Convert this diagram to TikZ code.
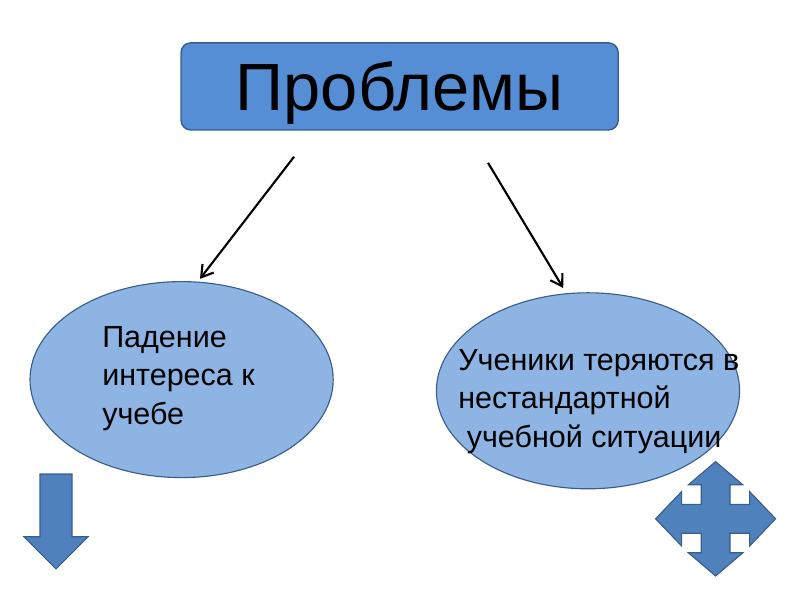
\documentclass[tikz,border=0pt]{standalone}
\usepackage{fontspec}
\setmainfont{Liberation Sans}
\usepackage{tikz}
\usetikzlibrary{arrows.meta, positioning, shapes.geometric}
\definecolor{boxblue}{HTML}{558ED5}
\definecolor{ellblue}{HTML}{8EB4E3}
\definecolor{shapeblue}{HTML}{4F81BD}
\definecolor{edgeblue}{HTML}{385D8A}
\tikzset{
  titlebox/.style={draw=edgeblue, fill=boxblue, line width=1pt, rounded corners=7pt,
    minimum width=10.93cm, minimum height=2.18cm, text height=34pt, text depth=0pt,
    font=\fontsize{47.5}{50}\selectfont},
  problem/.style={ellipse, draw=edgeblue, fill=ellblue, line width=0.8pt,
    minimum width=7.58cm, minimum height=4.9cm},
  ptext/.style={inner sep=0pt, align=left, font=\fontsize{21.7}{27.3}\selectfont},
  link/.style={-{Straight Barb[length=8pt, width=10pt]}, line width=1.5pt},
  bigarrow/.style={draw=edgeblue, fill=shapeblue, line width=0.8pt, line join=miter}
}

\begin{document}
\begin{tikzpicture}
\useasboundingbox (0,0) rectangle (20,15);
\node[titlebox] (prob) at (9.99,12.84) {Проблемы};

\node[problem] (interest) at (4.54,5.51) {};
\node[ptext, anchor=north west] (interesttxt) at (2.55,6.85) {Падение\\интереса к\\учебе};

\node[problem] (lost) at (14.7,5.23) {};
\node[ptext, anchor=north west] (losttxt) at (11.45,6.27) {Ученики теряются в\\нестандартной\\\ учебной ситуации};

\coordinate (l1) at (7.35,11.08);
\coordinate (l2) at (5.0,8.03);
\coordinate (r1) at (12.2,10.93);
\coordinate (r2) at (14.08,7.8);
\draw[link] (l1) -- (l2);
\draw[link] (r1) -- (r2);

\draw[bigarrow] (1.0,3.15) -- (1.8,3.15) -- (1.8,1.58) -- (2.2,1.58) -- (1.4,0.78)
  -- (0.6,1.58) -- (1.0,1.58) -- cycle;

\begin{scope}[shift={(17.89,2.03)}]
\draw[bigarrow] (0,1.43) -- (0.68,0.85) -- (0.36,0.85) -- (0.36,0.36) -- (0.85,0.36)
  -- (0.85,0.68) -- (1.5,0) -- (0.85,-0.68) -- (0.85,-0.36) -- (0.36,-0.36)
  -- (0.36,-0.85) -- (0.68,-0.85) -- (0,-1.43) -- (-0.68,-0.85) -- (-0.36,-0.85)
  -- (-0.36,-0.36) -- (-0.85,-0.36) -- (-0.85,-0.68) -- (-1.5,0) -- (-0.85,0.68)
  -- (-0.85,0.36) -- (-0.36,0.36) -- (-0.36,0.85) -- (-0.68,0.85) -- cycle;
\end{scope}
\end{tikzpicture}
\end{document}
